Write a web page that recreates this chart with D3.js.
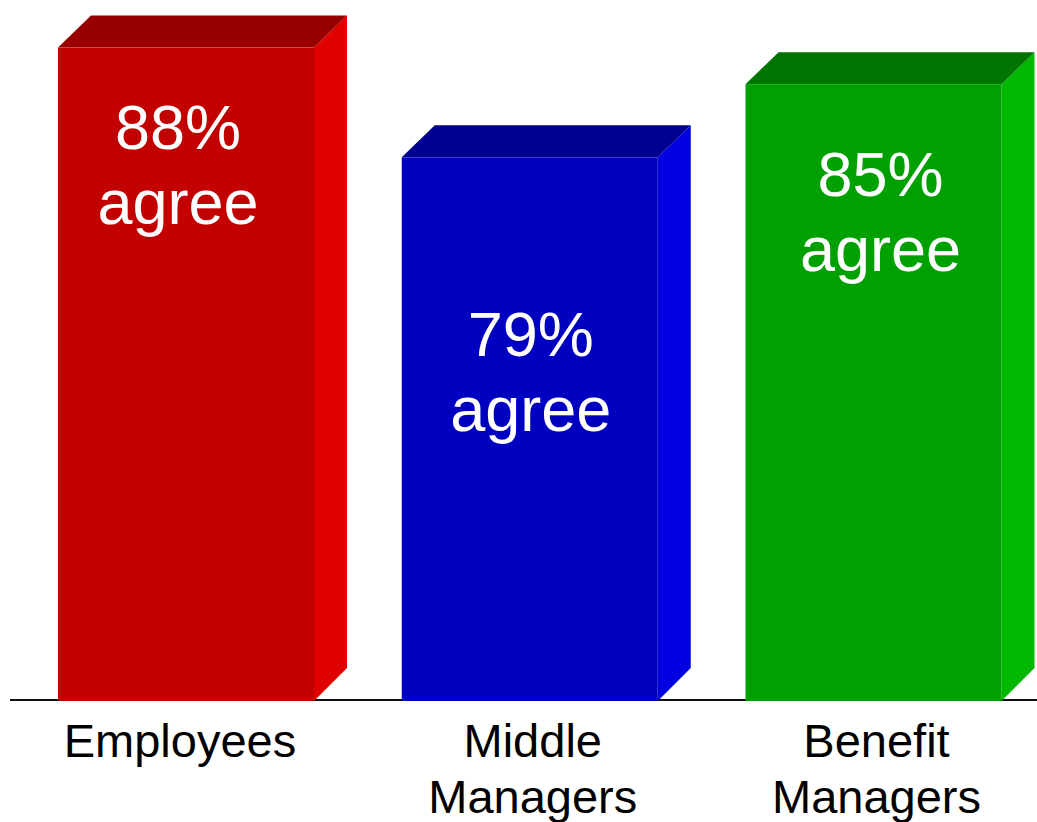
<!DOCTYPE html>
<html>
<head>
<meta charset="utf-8">
<script src="https://cdn.jsdelivr.net/npm/d3@7"></script>
<style>
  html, body { margin: 0; padding: 0; background: #ffffff; }
  svg { display: block; }
</style>
</head>
<body>
<svg id="chart" width="1037" height="822"></svg>
<script>
// Survey results: share of each group that agrees
const categories = ["Employees", "Middle Managers", "Benefit Managers"];
const values = [88, 79, 85];
const valueLabels = ["88%", "79%", "85%"];
const valueSuffix = "agree";

// Face colours for each bar: front, top, side
const frontColors = ["#c20000", "#0000c0", "#00a000"];
const topColors = ["#980000", "#000090", "#007400"];
const sideColors = ["#e00000", "#0000e0", "#00b800"];

const width = 1037, height = 822;
const baseY = 700;
const depthX = 33, depthY = 32;

// Small horizontal nudges for the value and category text, and the
// distance of the value text below each bar's top edge
const valueDx = [-8, 1, 7];
const valueDy = [101, 199, 112];
const catDx = [-6, 3, 3];

const svg = d3.select("#chart");

const x = d3.scaleBand()
  .domain(categories)
  .range([58, 1001.5])
  .paddingInner(0.2553)
  .paddingOuter(0);

const y = d3.scaleLinear()
  .domain([34.5, 88])
  .range([baseY, 47.6]);

// Baseline
svg.append("line")
  .attr("x1", 10).attr("x2", width)
  .attr("y1", baseY).attr("y2", baseY)
  .attr("stroke", "#111")
  .attr("stroke-width", 2);

const bars = svg.selectAll("g.bar")
  .data(values)
  .enter().append("g")
  .attr("class", "bar");

const bw = x.bandwidth();

// Side face
bars.append("path")
  .attr("fill", (d, i) => sideColors[i])
  .attr("d", (d, i) => {
    const x1 = x(categories[i]) + bw, t = y(d);
    return `M${x1},${t}L${x1 + depthX},${t - depthY}L${x1 + depthX},${baseY - depthY}L${x1},${baseY + 1}Z`;
  });

// Top face
bars.append("path")
  .attr("fill", (d, i) => topColors[i])
  .attr("d", (d, i) => {
    const x0 = x(categories[i]), t = y(d);
    return `M${x0},${t}L${x0 + depthX},${t - depthY}L${x0 + bw + depthX},${t - depthY}L${x0 + bw},${t}Z`;
  });

// Front face
bars.append("rect")
  .attr("x", (d, i) => x(categories[i]))
  .attr("y", d => y(d))
  .attr("width", bw)
  .attr("height", d => baseY + 1 - y(d))
  .attr("fill", (d, i) => frontColors[i]);

// Value labels inside the bars
const vText = bars.append("text")
  .attr("text-anchor", "middle")
  .attr("fill", "#ffffff")
  .attr("font-family", "'Liberation Sans', Arial, sans-serif")
  .attr("font-size", 63)
  .attr("x", (d, i) => x(categories[i]) + bw / 2 + valueDx[i])
  .attr("y", (d, i) => y(d) + valueDy[i]);

vText.append("tspan")
  .attr("x", (d, i) => x(categories[i]) + bw / 2 + valueDx[i])
  .text((d, i) => valueLabels[i]);
vText.append("tspan")
  .attr("x", (d, i) => x(categories[i]) + bw / 2 + valueDx[i])
  .attr("dy", 75)
  .text(valueSuffix);

// Category labels under the baseline
const cText = svg.selectAll("text.cat")
  .data(categories)
  .enter().append("text")
  .attr("class", "cat")
  .attr("text-anchor", "middle")
  .attr("fill", "#000")
  .attr("font-family", "'Liberation Sans', Arial, sans-serif")
  .attr("font-size", 47)
  .attr("y", 757);

cText.each(function (c, i) {
  const words = c.split(" ");
  const cx = x(c) + bw / 2 + catDx[i];
  const t = d3.select(this);
  words.forEach((w, j) => {
    t.append("tspan")
      .attr("x", cx)
      .attr("dy", j === 0 ? 0 : 56)
      .text(w);
  });
});
</script>
</body>
</html>
